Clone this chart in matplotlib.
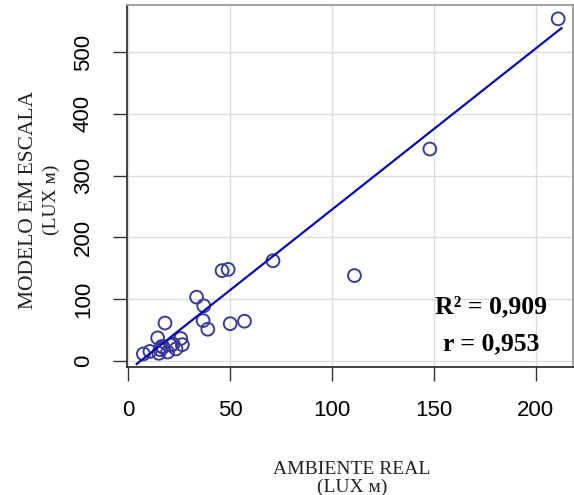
import matplotlib
matplotlib.use("Agg")
import matplotlib.pyplot as plt
import numpy as np

# Data
ambiente_real = [211, 148, 71, 111, 46, 49, 33.5, 37, 36.7, 39, 50, 57,
                 18, 14.4, 25.7, 26.5, 21, 23.4, 16.4, 15.6, 19.3, 15, 10.6, 7.4,
                 22, 17]
modelo_escala = [554, 343, 162, 138, 146, 148, 103, 89, 65, 51, 60, 64,
                 61, 37, 36, 26, 25, 19, 23, 18, 14, 12, 15, 11,
                 27, 22]

fit_slope = 2.61
fit_intercept = -16.0
fit_x_range = [4.1, 212.6]

x_ticks = [0, 50, 100, 150, 200]
y_ticks = [0, 100, 200, 300, 400, 500]

fig = plt.figure(figsize=(5.74, 4.95), dpi=100)
ax = fig.add_axes([0.2218, 0.2586, 0.7762, 0.7314])

ax.set_xlim(-0.5, 218.2)
ax.set_ylim(-10.2, 576.5)

for xv in x_ticks:
    ax.axvline(xv, color="#dcdcdc", lw=1.0, zorder=0)
for yv in y_ticks:
    ax.axhline(yv, color="#dcdcdc", lw=1.0, zorder=0)

ax.scatter(ambiente_real, modelo_escala, s=85, facecolors="none",
           edgecolors="#3b3b9a", linewidths=1.4, zorder=3)

fx = np.array(fit_x_range)
ax.plot(fx, fit_slope * fx + fit_intercept, color="#0a0ab4", lw=1.6, zorder=4)

ax.set_xticks(x_ticks)
ax.set_yticks(y_ticks)
ax.set_xticklabels([str(v) for v in x_ticks], fontsize=16, family="Liberation Sans")
ax.set_yticklabels([str(v) for v in y_ticks], fontsize=16, family="Liberation Sans",
                   rotation=90, va="center")
ax.tick_params(axis="x", length=10, width=1.0, color="#333333", pad=14)
ax.tick_params(axis="y", length=10, width=1.0, color="#333333", pad=14)

for side in ["left", "bottom"]:
    ax.spines[side].set_color("#333333")
    ax.spines[side].set_linewidth(1.3)
for side in ["top", "right"]:
    ax.spines[side].set_color("#9a9a9a")
    ax.spines[side].set_linewidth(1.3)

ax.text(490.8 / 574, 1 - 306.7 / 495, "R² = 0,909", transform=fig.transFigure,
        ha="center", va="center", fontsize=18.5, fontweight="bold",
        family="Liberation Serif")
ax.text(490.8 / 574, 1 - 344 / 495, "r = 0,953", transform=fig.transFigure,
        ha="center", va="center", fontsize=18.5, fontweight="bold",
        family="Liberation Serif")

serif = ["Liberation Serif", "DejaVu Serif"]
fig.text(351.7 / 574, 1 - 470 / 495, "AMBIENTE REAL", ha="center", va="center",
         fontsize=14, family=serif, color="#222222")
fig.text(351.7 / 574, 1 - 487 / 495, "(LUX ᴍ)", ha="center", va="center",
         fontsize=14, family=serif, color="#222222")
fig.text(29 / 574, 1 - 200 / 495, "MODELO EM ESCALA", ha="center", va="center",
         fontsize=15.5, family=serif, rotation=90, color="#222222")
fig.text(51 / 574, 1 - 200 / 495, "(LUX ᴍ)", ha="center", va="center",
         fontsize=14, family=serif, rotation=90, color="#222222")

fig.savefig("out.png", dpi=100)
